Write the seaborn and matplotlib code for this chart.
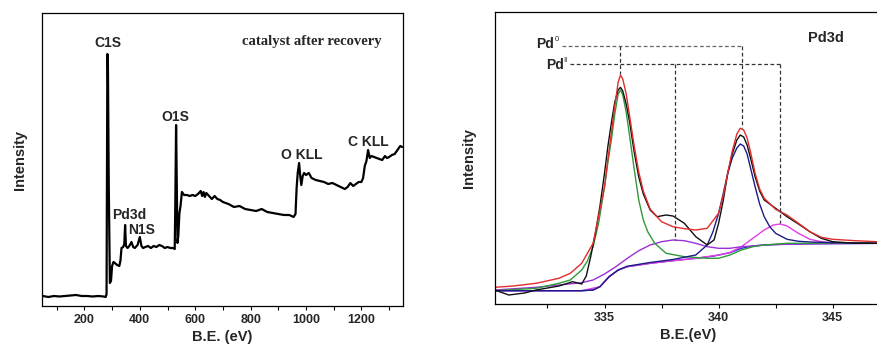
import numpy as np
import pandas as pd
import matplotlib
matplotlib.use("Agg")
import matplotlib.pyplot as plt
from matplotlib.ticker import MultipleLocator
import seaborn as sns

# ---------------- survey spectrum (left) ----------------
survey_ev = [50, 70, 90, 110, 130, 150, 170, 190, 210, 230, 250, 270, 277, 280, 283, 285, 288,
             292, 296, 300, 305, 310, 318, 326, 330, 334, 340, 344, 347, 350, 356, 362, 370, 376,
             382, 392, 400, 406, 412, 420, 430, 440, 450, 460, 470, 480, 490, 500, 510, 520, 526,
             528, 531, 533, 536, 539, 543, 547, 552, 560, 570, 580, 590, 600, 610, 620, 625, 630,
             635, 640, 650, 660, 670, 680, 690, 700, 720, 740, 760, 780, 800, 820, 840, 860, 880,
             900, 920, 940, 955, 962, 966, 970, 975, 979, 983, 988, 993, 1000, 1010, 1020, 1035,
             1050, 1065, 1080, 1095, 1110, 1125, 1140, 1150, 1160, 1170, 1180, 1190, 1200, 1206,
             1212, 1218, 1224, 1230, 1236, 1245, 1255, 1265, 1275, 1285, 1292, 1300, 1310, 1320,
             1330, 1340, 1347]
survey_int = [10, 9, 10, 9.5, 10, 10.5, 11, 10, 10, 9.5, 10, 9.5, 9, 12, 252, 240, 120,
              23, 25, 40, 44, 43, 41, 40, 45, 58, 59, 62, 81, 60, 58, 60, 64, 59,
              58, 61, 69, 60, 58, 59, 60, 58, 60, 59, 61, 60, 58, 59, 58, 58, 57,
              99, 181, 130, 63, 70, 93, 100, 114, 111, 111, 110, 111, 110, 112, 115, 110, 114,
              109, 113, 110, 107, 110, 107, 106, 104, 102, 99, 100, 97, 96, 95, 97, 94, 93,
              92, 91, 91, 89, 92, 118, 133, 143, 130, 121, 130, 133, 131, 133, 128, 126,
              125, 124, 122, 123, 121, 119, 117, 119, 123, 120, 122, 124, 124, 128,
              140, 145, 156, 148, 150, 149, 148, 147, 146, 150, 148, 149, 151, 152,
              156, 160, 159]
survey_labels = ["C1S", "Pd3d", "N1S", "O1S", "O KLL", "C KLL"]
survey_label_x = [283, 362, 408, 529, 985, 1224]
survey_label_y = [263, 91, 76, 189, 151, 164]

# ---------------- Pd3d high resolution (right) ----------------
red_ev = [330.2, 331, 332, 333, 333.5, 334, 334.5, 335, 335.15, 335.3, 335.45, 335.6, 335.7,
          335.8, 335.95, 336.1, 336.3, 336.5, 336.7, 337, 337.5, 338, 338.5, 339, 339.5, 340,
          340.2, 340.4, 340.6, 340.8, 340.95, 341.1, 341.25, 341.4, 341.6, 341.8, 342, 342.5,
          343, 343.5, 344, 344.5, 345, 346, 347.2]
red_int = [16.7, 18, 20.7, 25.7, 30.7, 40.7, 60.7, 117, 145, 171, 198, 222, 229,
           225, 210, 188, 158, 132, 113, 95, 82.3, 77.3, 75.3, 74, 75.7, 90.7,
           108, 130.7, 153, 170, 175.7, 174, 166, 152, 130.7, 115, 105.7, 94.7,
           89, 80.7, 72.3, 66.7, 64.7, 63.3, 62]

black_ev = [330.2, 330.8, 331.5, 332, 332.5, 333, 333.6, 334, 334.2, 334.4, 334.6, 334.8, 335,
            335.15, 335.3, 335.45, 335.6, 335.7, 335.8, 335.95, 336.1, 336.3, 336.5, 336.7, 337,
            337.3, 337.7, 338, 338.5, 339, 339.5, 339.8, 340, 340.2, 340.4, 340.6, 340.8, 340.95,
            341.1, 341.25, 341.4, 341.6, 341.8, 342, 342.5, 343, 343.5, 344, 344.5, 345, 346, 347.2]
black_int = [14, 9, 11, 14, 16, 18, 22.3, 20, 28, 48, 70.7, 98, 130.7,
             158, 181, 202, 214, 216.7, 213, 200, 182, 152, 127, 110, 94,
             87.3, 89, 88, 80.7, 67.3, 59, 64, 80.7, 103, 130.7, 150, 164, 169,
             167, 159, 146, 127.3, 113, 104, 95.7, 87.3, 80, 72.3, 65.7, 62.3, 60.7, 60.7]

green_ev = [330.2, 332, 333, 333.5, 334, 334.25, 334.5, 334.75, 335, 335.15, 335.3, 335.45,
            335.6, 335.7, 335.8, 335.95, 336.1, 336.3, 336.5, 336.7, 336.9, 337.2, 337.7, 338.5,
            339.5, 340, 340.5, 341, 341.5, 342, 343, 344, 345, 347.2]
green_int = [13.3, 15.7, 20.7, 24, 34, 43, 57.3, 82, 117, 142, 164, 190,
             210, 214, 209, 192, 168, 135, 104, 84, 72, 60.7, 50.7, 47.3,
             45.7, 45.7, 49, 54, 57.3, 59, 60.7, 60.7, 61, 61.3]

navy_ev = [330.2, 332, 333, 334, 334.5, 334.8, 335.2, 335.6, 336, 337, 338, 339, 339.5, 339.75,
           340, 340.2, 340.4, 340.6, 340.8, 340.95, 341.1, 341.25, 341.4, 341.6, 341.8, 342,
           342.25, 342.5, 343, 343.5, 344, 345, 347.2]
navy_int = [13.3, 13.3, 13.3, 13.3, 14, 17.3, 27.3, 34, 37.8, 41.5, 44.5, 49, 59, 72,
            90.7, 110, 130.7, 146, 156, 160, 158, 150, 136, 117.3, 100, 87.3,
            77, 70.7, 64.7, 62.7, 62, 61.3, 60.7]

bg_ev = [330.2, 332, 333, 334, 334.5, 334.8, 335.2, 335.6, 336, 337, 338, 339, 339.8, 340.5,
         341, 341.5, 342, 343, 344, 345, 347.2]
bg_int = [13.3, 13.3, 13.3, 13.3, 14, 17.3, 27.3, 34, 37.3, 40.7, 43.3, 45.7, 48, 51.3,
          55.7, 58, 59, 60, 60.3, 60.5, 60.7]

violet_ev = [330.2, 332, 333, 334, 334.5, 335, 335.5, 336, 336.5, 337, 337.5, 338, 338.5, 339,
             339.5, 340, 340.5, 341, 341.5, 342, 343, 344, 345, 347.2]
violet_int = [14, 16.7, 19, 21.3, 24, 30, 37.3, 45.7, 53.3, 59, 62.3, 64, 63.3, 60.7,
              57.3, 55.7, 55.7, 57.3, 58, 59, 59.7, 60, 60.3, 60.7]

magenta_ev = [330.2, 332, 334, 334.8, 335.2, 335.6, 336, 337, 338, 339, 340, 340.5, 341, 341.5,
              342, 342.4, 342.7, 343, 343.5, 344, 344.5, 345, 347.2]
magenta_int = [13.3, 13.3, 13.3, 17.3, 27.3, 34, 37.3, 40.7, 43.3, 45.7, 49, 51.5, 57.3, 65.7,
               74, 79, 80, 78, 70.7, 64.7, 62.3, 61.3, 60.7]

pd0_ev = [335.7, 341.03]
pd0_peak_int = [230, 175.7]
pdII_ev = [338.07, 342.67]
pdII_peak_int = [64, 80.7]
pd0_level = 258.3
pdII_level = 239.7

# ---------------- figure ----------------
sns.set_theme(style="ticks")
plt.rcParams["font.family"] = ["Liberation Sans", "DejaVu Sans"]
plt.rcParams["font.weight"] = "bold"

W, H = 878, 352
fig = plt.figure(figsize=(W / 100, H / 100), dpi=100)
fig.patch.set_facecolor("white")

# left axes
axL = fig.add_axes([42 / W, 1 - 306 / H, (403 - 42) / W, (306 - 13) / H])
dfS = pd.DataFrame({"ev": survey_ev, "I": survey_int})
sns.lineplot(data=dfS, x="ev", y="I", ax=axL, color="black", lw=1.6, estimator=None, sort=False)
axL.set_xlim(47, 1350)
axL.set_ylim(0, 293)
axL.xaxis.set_major_locator(MultipleLocator(200))
axL.xaxis.set_minor_locator(MultipleLocator(100))
axL.set_yticks([])
for t, x, y in zip(survey_labels, survey_label_x, survey_label_y):
    axL.text(x, y, t, ha="center", va="center", fontsize=10, fontweight="bold")
axL.text(1022, 264, "catalyst after recovery", ha="center", va="center", fontsize=10.5,
         fontweight="bold", family=["Liberation Serif", "DejaVu Serif"])
axL.set_xlabel("B.E. (eV)", fontsize=10.5, fontweight="bold", labelpad=3)
axL.set_ylabel("Intensity", fontsize=10.5, fontweight="bold", labelpad=11)

# right axes
x0R = 495
x1R = 880.6
axR = fig.add_axes([x0R / W, 1 - 304 / H, (x1R - x0R) / W, (304 - 12) / H])
curves = [
    (bg_ev, bg_int, "#2a2ad8"),
    (magenta_ev, magenta_int, "#e63ce6"),
    (violet_ev, violet_int, "#9a30d6"),
    (green_ev, green_int, "#2e9a3a"),
    (navy_ev, navy_int, "#1c1c88"),
    (black_ev, black_int, "#111111"),
    (red_ev, red_int, "#e32b2b"),
]
for ev, inten, col in curves:
    df = pd.DataFrame({"ev": ev, "I": inten})
    sns.lineplot(data=df, x="ev", y="I", ax=axR, color=col, lw=1.0, estimator=None, sort=False)

dash_kw = dict(color="#333333", lw=0.9, ls=(0, (3, 2)))
axR.plot([333.15, pd0_ev[1]], [pd0_level, pd0_level], color="#666666", lw=0.9, ls=(0, (3, 2)))
for x, y in zip(pd0_ev, pd0_peak_int):
    axR.plot([x, x], [pd0_level, y], **dash_kw)
axR.plot([333.5, pdII_ev[1]], [pdII_level, pdII_level], **dash_kw)
for x, y in zip(pdII_ev, pdII_peak_int):
    axR.plot([x, x], [pdII_level, y], **dash_kw)
axR.text(332.02, 260.0, "Pd", ha="left", va="center", fontsize=10, fontweight="bold")
axR.text(332.80, 264.5, "0", ha="left", va="center", fontsize=5.5, fontweight="normal")
axR.text(332.42, 239.2, "Pd", ha="left", va="center", fontsize=10, fontweight="bold")
axR.text(333.20, 243.5, "II", ha="left", va="center", fontsize=5.5, fontweight="normal")
axR.text(344.72, 265.7, "Pd3d", ha="center", va="center", fontsize=10.5, fontweight="bold")

axR.set_xlim(330.2, 345 + (x1R - 832.7) / 22.8)
axR.set_ylim(0, 292)
axR.xaxis.set_major_locator(MultipleLocator(5))
axR.xaxis.set_minor_locator(MultipleLocator(2.5))
axR.set_yticks([])
axR.set_xlabel("B.E.(eV)", fontsize=10.5, fontweight="bold", labelpad=3)
axR.set_ylabel("Intensity", fontsize=10.5, fontweight="bold", labelpad=14)

for ax in (axL, axR):
    for s in ax.spines.values():
        s.set_visible(True)
        s.set_color("black")
        s.set_linewidth(0.9)
    ax.tick_params(axis="x", which="both", direction="out", length=3, width=0.8,
                   labelsize=9, pad=3, color="black")
    for lab in ax.get_xticklabels():
        lab.set_fontweight("bold")
    ax.set_facecolor("white")

fig.savefig("out.png", dpi=100, facecolor="white")
